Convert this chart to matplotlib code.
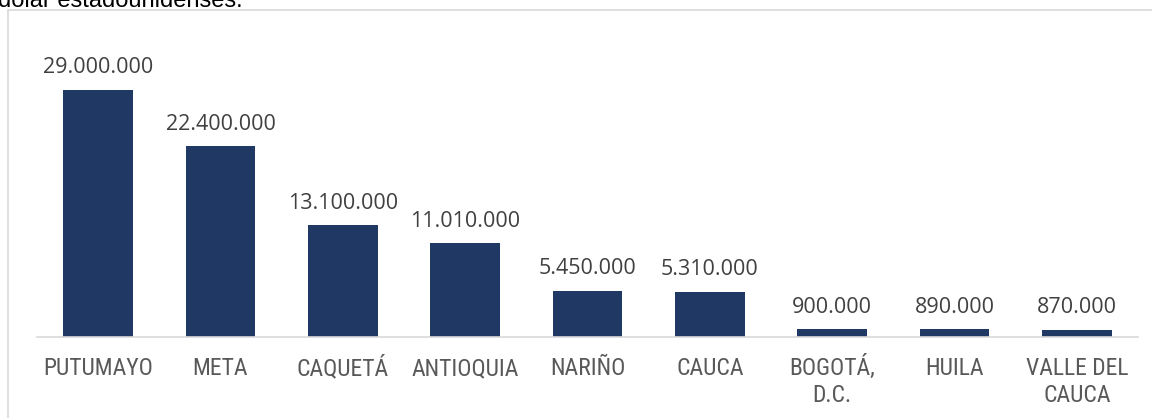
import matplotlib.pyplot as plt
from matplotlib.patches import Rectangle
from matplotlib.transforms import blended_transform_factory

# === DATA ===
departamentos = ["PUTUMAYO", "META", "CAQUETÁ", "ANTIOQUIA", "NARIÑO", "CAUCA",
                 "BOGOTÁ,\nD.C.", "HUILA", "VALLE DEL\nCAUCA"]
valores = [29000000, 22400000, 13100000, 11010000, 5450000, 5310000,
           900000, 890000, 870000]

# === STYLE ===
BAR_COLOR = "#203864"
W, H = 1152, 418

fig = plt.figure(figsize=(W / 100, H / 100), dpi=100)

# chart frame (cropped on the right and bottom)
fig.patches.append(Rectangle((8 / W, -0.1), 1.2, (H - 10) / H + 0.1,
                             transform=fig.transFigure, fill=False,
                             edgecolor="#d9d9d9", linewidth=1.2))

# cut-off caption above the chart
fig.text(-2 / W, 1 - 7 / H, "dólar estadounidenses.", fontsize=17,
         family="Liberation Sans", color="black", va="baseline", ha="left")

ax = fig.add_axes([37 / W, (H - 337) / H, (1138 - 37) / W, (337 - 30) / H])
x = range(len(departamentos))
ax.bar(x, valores, width=0.57, color=BAR_COLOR, zorder=2)

ax.set_xlim(-0.5, len(departamentos) - 0.5)
ax.set_ylim(0, 29000000 * 307 / 247)

# value labels
for xi, v in zip(x, valores):
    label = f"{v:,}".replace(",", ".")
    ax.annotate(label, (xi, v), xytext=(0, 12), textcoords="offset points",
                ha="center", va="baseline", fontsize=15.5,
                family="Open Sans", color="#404040")

# category labels, one line at a time so baselines line up
trans = blended_transform_factory(ax.transData, fig.transFigure)
for xi, name in zip(x, departamentos):
    for i, line in enumerate(name.split("\n")):
        ax.text(xi, (H - 375 - 27 * i) / H, line, transform=trans,
                ha="center", va="baseline", fontsize=17,
                family=["Roboto Condensed", "Liberation Sans"], color="#595959")

ax.set_xticks([])
ax.set_yticks([])

for side in ["top", "right", "left"]:
    ax.spines[side].set_visible(False)
ax.spines["bottom"].set_color("#d9d9d9")
ax.spines["bottom"].set_linewidth(1.2)

fig.savefig("out.png", dpi=100)
